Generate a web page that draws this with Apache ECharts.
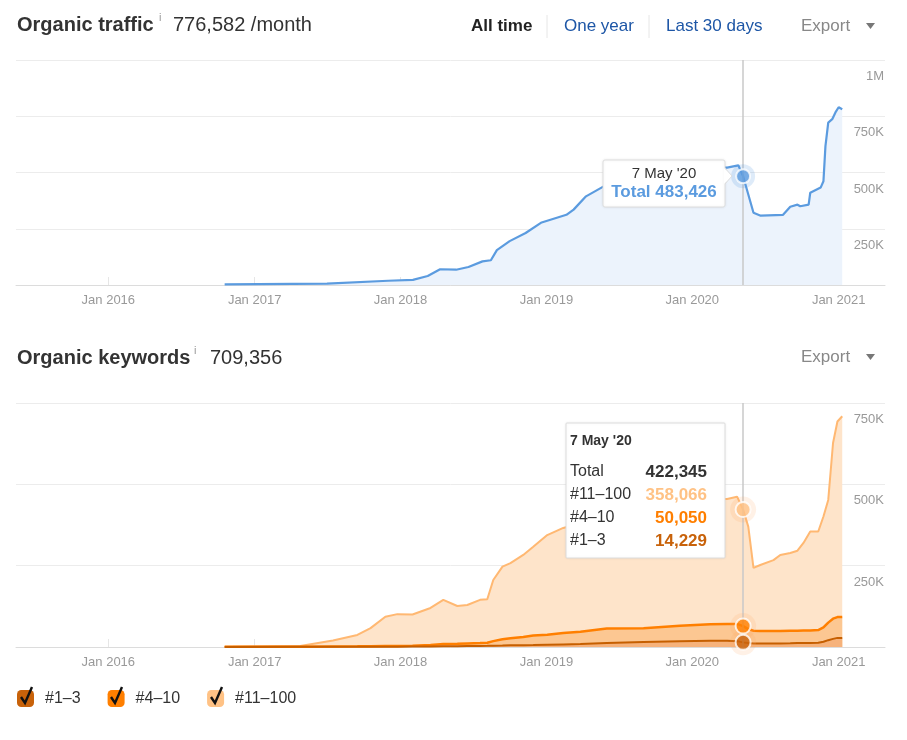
<!DOCTYPE html>
<html><head><meta charset="utf-8">
<script src="https://cdn.jsdelivr.net/npm/echarts@6/dist/echarts.min.js"></script>
<style>html,body{margin:0;padding:0;background:#fff}#c{width:907px;height:740px}</style>
</head><body><div id="c"></div><script>
const FONT = '"Liberation Sans", Arial, Helvetica, sans-serif';

// ---- data ----
const tickYears = [2016, 2017, 2018, 2019, 2020, 2021];
const xMin = '2015-05-15';
const xMax = '2021-04-27';
const focusDate = '2020-05-07';

const trafficDates = ['2016-10-18','2017-07-01','2017-12-01','2018-02-01','2018-03-10','2018-04-10','2018-05-20','2018-06-20','2018-07-25','2018-08-15','2018-08-30','2018-10-01','2018-11-10','2018-12-20','2019-02-20','2019-03-10','2019-04-10','2019-06-01','2019-08-15','2019-11-01','2020-01-01','2020-02-15','2020-03-28','2020-04-25','2020-05-07','2020-06-02','2020-06-20','2020-08-15','2020-09-02','2020-09-20','2020-09-27','2020-10-18','2020-10-22','2020-11-17','2020-11-24','2020-11-29','2020-12-06','2020-12-16','2020-12-24','2021-01-01','2021-01-10'];
const trafficValues = [3000,6000,19000,23000,40000,70000,68000,80000,105000,110000,155000,195000,231000,278000,312000,335000,394000,446000,480000,520000,550000,525000,522000,532000,483426,321000,308000,312000,348000,357000,350000,357000,410000,433000,461000,617000,722000,737000,767000,790000,781000];

const kwDates = ['2016-10-18','2017-04-25','2017-07-16','2017-09-15','2017-10-18','2017-11-24','2017-12-24','2018-01-31','2018-03-17','2018-04-18','2018-05-23','2018-06-17','2018-07-19','2018-08-06','2018-08-21','2018-09-13','2018-10-03','2018-11-04','2018-11-29','2019-01-03','2019-02-12','2019-03-27','2019-06-01','2019-09-01','2019-12-01','2020-02-15','2020-03-28','2020-04-22','2020-05-07','2020-05-20','2020-06-02','2020-06-19','2020-07-22','2020-08-08','2020-09-02','2020-09-20','2020-10-05','2020-10-22','2020-11-11','2020-11-24','2020-12-06','2020-12-18','2020-12-29','2021-01-10'];
const kwTop3 = [200,400,500,600,700,800,1000,1200,1500,2000,2500,3000,3200,3500,4000,4500,5000,5500,6000,7000,8000,9000,12000,15000,18000,19000,19000,18000,14229,12000,11000,11000,11000,11000,11500,12000,12000,12000,13000,16000,21000,25000,28000,28000];
const kwTop10 = [300,600,1000,1400,1800,2200,2000,2300,4500,7000,7500,8000,8800,9500,14000,19500,22000,25500,29000,31000,35000,38000,45000,43000,47000,51000,52000,53000,50050,43000,39000,38000,38000,38000,38500,38000,39000,39000,39000,44000,54000,62000,64000,64000];
const kwTop100 = [500,2000,18500,35000,55500,90000,98000,96500,114000,136000,116000,118000,133000,134000,188000,223000,231000,252000,273000,306000,323000,333000,348000,372000,383000,385000,384000,391000,358066,315000,193000,203000,218000,234000,239000,246000,269000,304000,303000,341000,377000,540000,601000,617356];

const seriesNames = ['#1–3', '#4–10', '#11–100'];
const trafficTotal = '776,582';
const keywordsTotal = '709,356';

// ---- helpers ----
function ts(s){ const p = s.split('-').map(Number); return new Date(p[0], p[1]-1, p[2]).getTime(); }
function fmt(n){ return n.toLocaleString('en-US'); }
function kfmt(v){ if (v === 0) return ''; if (v >= 1e6) return (v/1e6) + 'M'; return (v/1000) + 'K'; }
const yearTicks = tickYears.map(y => ts(y + '-01-01'));
const fTs = ts(focusDate);
const tIdx = trafficDates.indexOf(focusDate);
const kIdx = kwDates.indexOf(focusDate);
const pair = (dates, vals) => dates.map((d, i) => [ts(d), vals[i]]);
// stacked (cumulative) levels built from the three series
const cumA = kwTop3.slice();
const cumB = kwTop3.map((v, i) => v + kwTop10[i]);
const cumC = cumB.map((v, i) => v + kwTop100[i]);

const C_BLUE = '#5b9bdf';
const C1 = '#c8620a', C2 = '#ff7f00', C3 = '#ffc285';

function xAxisFor(g){
  return {
    type: 'value', gridIndex: g, min: ts(xMin), max: ts(xMax), scale: true,
    axisLine: { show: true, onZero: false, lineStyle: { color: '#dcdcdc', width: 1 } },
    axisTick: { show: true, inside: true, length: 8, customValues: yearTicks, lineStyle: { color: '#e6e6e6' } },
    axisLabel: { customValues: yearTicks, formatter: v => 'Jan ' + new Date(v).getFullYear(),
      color: '#999', fontSize: 13, fontFamily: FONT, margin: 9 },
    splitLine: { show: false }
  };
}
function yAxisFor(g, max){
  return {
    type: 'value', gridIndex: g, position: 'right', min: 0, max: max, interval: 250000,
    axisLine: { show: false }, axisTick: { show: false },
    splitLine: { show: true, lineStyle: { color: '#ececec', width: 1 } },
    axisLabel: { inside: true, margin: 1, verticalAlign: 'top', padding: [10, 0, 0, 0],
      color: '#999', fontSize: 13, fontFamily: FONT, formatter: kfmt }
  };
}
const vline = { silent: true, symbol: ['none', 'none'], label: { show: false },
  lineStyle: { color: '#c9c9c9', width: 1.5, type: 'solid' }, data: [{ xAxis: fTs }] };

// header + tooltip graphics
const T = (text, x, y, font, fill, align) => ({ type: 'text', x: x, y: y, z: 100,
  style: { text: text, font: font, fill: fill, align: align || 'left', verticalAlign: 'middle' } });
const legendBoxes = [17, 107, 207];

const graphics = [
  T('Organic traffic', 17, 25, 'bold 20px ' + FONT, '#333'),
  T('i', 159, 18, '11px ' + FONT, '#999'),
  T(trafficTotal + ' /month', 173, 25, '20px ' + FONT, '#333'),
  T('All time', 471, 26, 'bold 17px ' + FONT, '#222'),
  { type: 'line', shape: { x1: 547, y1: 15, x2: 547, y2: 38 }, style: { stroke: '#e6e6e6', lineWidth: 1 } },
  T('One year', 564, 26, '17px ' + FONT, '#1d56a6'),
  { type: 'line', shape: { x1: 649, y1: 15, x2: 649, y2: 38 }, style: { stroke: '#e6e6e6', lineWidth: 1 } },
  T('Last 30 days', 666, 26, '17px ' + FONT, '#1d56a6'),
  T('Export', 801, 26, '17px ' + FONT, '#888'),
  { type: 'polygon', shape: { points: [[866, 23], [875, 23], [870.5, 29]] }, style: { fill: '#777' } },

  T('Organic keywords', 17, 358, 'bold 20px ' + FONT, '#333'),
  T('i', 194, 351, '11px ' + FONT, '#999'),
  T(keywordsTotal, 210, 358, '20px ' + FONT, '#333'),
  T('Export', 801, 357, '17px ' + FONT, '#888'),
  { type: 'polygon', shape: { points: [[866, 354], [875, 354], [870.5, 360]] }, style: { fill: '#777' } },

  // top tooltip
  { type: 'rect', z: 100, shape: { x: 603, y: 160, width: 122, height: 47, r: 2 },
    style: { fill: '#fff', stroke: '#dedede', lineWidth: 1, shadowBlur: 3, shadowColor: 'rgba(0,0,0,0.08)' } },
  { type: 'polygon', z: 101, shape: { points: [[724, 168], [732, 176], [724, 184]] }, style: { fill: '#fff' } },
  { type: 'polyline', z: 101, shape: { points: [[725, 168], [732, 176], [725, 184]] }, style: { stroke: '#dedede', lineWidth: 1, fill: null } },
  T("7 May '20", 664, 174, '15px ' + FONT, '#333', 'center'),
  T('Total ' + fmt(trafficValues[tIdx]), 664, 192, 'bold 17px ' + FONT, C_BLUE, 'center'),

  // bottom tooltip
  { type: 'rect', z: 100, shape: { x: 566, y: 423, width: 159, height: 135, r: 1 },
    style: { fill: '#fff', stroke: '#dcdcdc', lineWidth: 1, shadowBlur: 3, shadowColor: 'rgba(0,0,0,0.06)' } },
  T("7 May '20", 570, 441, 'bold 14px ' + FONT, '#333'),
  T('Total', 570, 472, '16px ' + FONT, '#333'),
  T(seriesNames[2], 570, 495, '16px ' + FONT, '#333'),
  T(seriesNames[1], 570, 518, '16px ' + FONT, '#333'),
  T(seriesNames[0], 570, 541, '16px ' + FONT, '#333'),
  T(fmt(cumC[kIdx]), 707, 472, 'bold 17px ' + FONT, '#333', 'right'),
  T(fmt(kwTop100[kIdx]), 707, 495, 'bold 17px ' + FONT, C3, 'right'),
  T(fmt(kwTop10[kIdx]), 707, 518, 'bold 17px ' + FONT, C2, 'right'),
  T(fmt(kwTop3[kIdx]), 707, 541, 'bold 17px ' + FONT, C1, 'right')
];
legendBoxes.forEach(bx => {
  graphics.push({ type: 'polyline', z: 120,
    shape: { points: [[bx + 4, 697], [bx + 8, 703], [bx + 15, 687]] },
    style: { stroke: '#111', lineWidth: 2.4, fill: null, lineJoin: 'miter' } });
});

const chart = echarts.init(document.getElementById('c'), null, { renderer: 'canvas' });
chart.setOption({
  animation: false,
  backgroundColor: '#fff',
  textStyle: { fontFamily: FONT },
  grid: [
    { left: 16, right: 22, top: 60, height: 225 },
    { left: 16, right: 22, top: 403, height: 244 }
  ],
  xAxis: [xAxisFor(0), xAxisFor(1)],
  yAxis: [yAxisFor(0, 1000000), yAxisFor(1, 750000)],
  legend: {
    left: 17, top: 690, padding: 0, itemWidth: 17, itemHeight: 17, itemGap: 27, icon: 'roundRect',
    selectedMode: false,
    textStyle: { fontSize: 16, color: '#333', fontFamily: FONT, padding: [0, 0, 0, 6] },
    data: [
      { name: seriesNames[0], itemStyle: { color: C1 } },
      { name: seriesNames[1], itemStyle: { color: C2 } },
      { name: seriesNames[2], itemStyle: { color: C3 } }
    ]
  },
  graphic: graphics,
  series: [
    { name: 'Organic traffic', type: 'line', xAxisIndex: 0, yAxisIndex: 0, data: pair(trafficDates, trafficValues),
      symbol: 'none', lineStyle: { color: C_BLUE, width: 2.2 }, itemStyle: { color: C_BLUE },
      areaStyle: { color: '#ecf3fc', opacity: 1 }, markLine: vline },
    { type: 'scatter', xAxisIndex: 0, yAxisIndex: 0, z: 10, silent: true, symbolSize: 24,
      itemStyle: { color: 'rgba(91,155,223,0.25)' }, data: [[fTs, trafficValues[tIdx]]] },
    { type: 'scatter', xAxisIndex: 0, yAxisIndex: 0, z: 11, silent: true, symbolSize: 14,
      itemStyle: { color: C_BLUE, borderColor: '#fff', borderWidth: 2 }, data: [[fTs, trafficValues[tIdx]]] },

    // stacked areas: drawn top level first so each lower band covers the one above it
    { name: seriesNames[2], type: 'line', xAxisIndex: 1, yAxisIndex: 1, data: pair(kwDates, cumC),
      symbol: 'none', lineStyle: { color: '#ffb872', width: 2 }, itemStyle: { color: C3 },
      areaStyle: { color: '#fee4ca', opacity: 1 }, markLine: vline },
    { name: seriesNames[1], type: 'line', xAxisIndex: 1, yAxisIndex: 1, data: pair(kwDates, cumB),
      symbol: 'none', lineStyle: { color: '#ff7f00', width: 2.5 }, itemStyle: { color: C2 },
      areaStyle: { color: '#fcc792', opacity: 1 } },
    { name: seriesNames[0], type: 'line', xAxisIndex: 1, yAxisIndex: 1, data: pair(kwDates, cumA),
      symbol: 'none', lineStyle: { color: '#c65f00', width: 2 }, itemStyle: { color: C1 },
      areaStyle: { color: '#f6b27b', opacity: 1 } },
    { type: 'scatter', xAxisIndex: 1, yAxisIndex: 1, z: 10, silent: true, symbolSize: 26,
      itemStyle: { color: 'rgba(255,170,100,0.2)' },
      data: [[fTs, cumC[kIdx]], [fTs, cumB[kIdx]], [fTs, cumA[kIdx]]] },
    { type: 'scatter', xAxisIndex: 1, yAxisIndex: 1, z: 11, silent: true, symbolSize: 15,
      data: [
        { value: [fTs, cumC[kIdx]], itemStyle: { color: C3, borderColor: '#fff', borderWidth: 2 } },
        { value: [fTs, cumB[kIdx]], itemStyle: { color: C2, borderColor: '#fff', borderWidth: 2 } },
        { value: [fTs, cumA[kIdx]], itemStyle: { color: C1, borderColor: '#fff', borderWidth: 2 } }
      ] }
  ]
});
</script></body></html>
